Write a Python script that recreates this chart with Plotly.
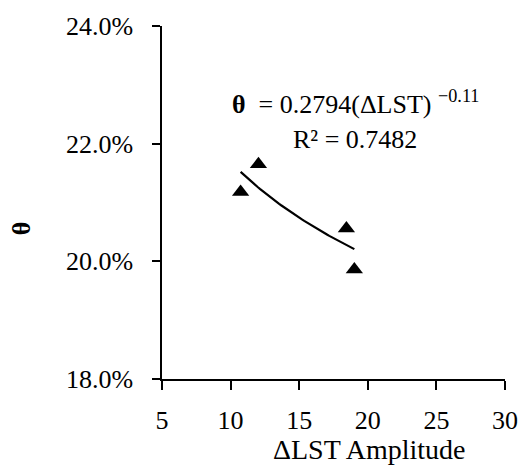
import numpy as np
import plotly.graph_objects as go

# Data
dlst_amplitude = [10.73, 12.03, 18.44, 19.02]
theta_values = [0.2118, 0.2165, 0.2056, 0.1986]

# Power trendline coefficients (as shown in the chart)
coef_a = 0.2794
coef_b = -0.11
r_squared = 0.7482

x_ticks = [5, 10, 15, 20, 25, 30]
y_ticks = [0.18, 0.20, 0.22, 0.24]

FONT = "Liberation Serif"

xs = np.linspace(min(dlst_amplitude), max(dlst_amplitude), 60)
ys = coef_a * xs ** coef_b

fig = go.Figure()
fig.add_trace(go.Scatter(x=xs, y=ys, mode="lines",
                         line=dict(color="black", width=2.2), hoverinfo="skip"))
fig.add_trace(go.Scatter(x=dlst_amplitude, y=theta_values, mode="markers",
                         marker=dict(symbol="triangle-up", size=15, color="black")))

fig.update_layout(
    width=530, height=466,
    margin=dict(l=162, r=22, t=26, b=87),
    paper_bgcolor="white", plot_bgcolor="white",
    showlegend=False,
    font=dict(family=FONT, size=26, color="black"),
)
fig.update_xaxes(range=[5, 30], tickvals=x_ticks, showgrid=False, zeroline=False,
                 showline=True, linecolor="black", linewidth=1.5,
                 ticks="outside", ticklen=9, tickwidth=1.5, tickcolor="black",
                 ticklabelstandoff=8, tickfont=dict(family=FONT, size=26))
fig.update_yaxes(range=[0.18, 0.24], tickvals=y_ticks, tickformat=".1%",
                 showgrid=False, zeroline=False,
                 showline=True, linecolor="black", linewidth=1.5,
                 ticks="outside", ticklen=8, tickwidth=1.5, tickcolor="black",
                 ticklabelstandoff=14, tickfont=dict(family=FONT, size=26))

fig.add_annotation(xref="paper", yref="paper", x=(371 - 162) / 346, y=(466 - 87 - 450) / 353,
                   text="ΔLST Amplitude", showarrow=False, xanchor="center", yanchor="middle",
                   font=dict(family=FONT, size=28))
fig.add_annotation(xref="paper", yref="paper", x=(20 - 162) / 346, y=(379 - 228) / 353,
                   text="<b>θ</b>", textangle=-90, showarrow=False, xanchor="center", yanchor="middle",
                   font=dict(family=FONT, size=26))
fig.add_annotation(xref="paper", yref="paper", x=(357 - 162) / 346, y=(379 - 102) / 353,
                   text=f"<b>θ</b>  = {coef_a}(ΔLST) <sup>−{abs(coef_b)}</sup>",
                   showarrow=False, xanchor="center", yanchor="middle",
                   font=dict(family=FONT, size=26))
fig.add_annotation(xref="paper", yref="paper", x=(357 - 162) / 346, y=(379 - 139) / 353,
                   text=f"R² = {r_squared}", showarrow=False, xanchor="center", yanchor="middle",
                   font=dict(family=FONT, size=26))

fig.write_html("out.html")
